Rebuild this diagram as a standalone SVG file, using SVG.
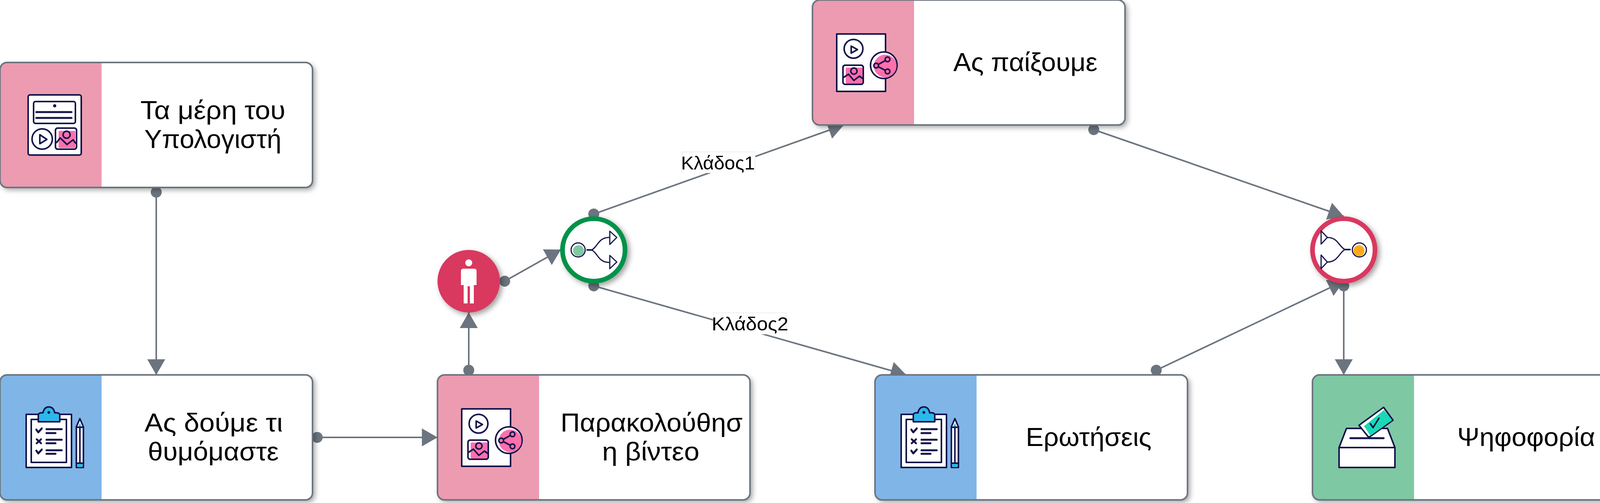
<svg xmlns="http://www.w3.org/2000/svg" width="4168" height="1288" viewBox="0 0 4168 1288" style="display:block">
<defs>
<style>
text{font-family:"Liberation Sans",Arial,sans-serif;fill:#000;text-anchor:middle}
.t{font-size:67px}
.l{font-size:48px}
.card{fill:#fff}
.frame{fill:none;stroke:#6c757f;stroke-width:4}
.pink{fill:#ec9bb1}.blue{fill:#80b5e8}.green{fill:#7fc8a4}
.conn{fill:none;stroke:#6c757f;stroke-width:4;marker-start:url(#dot);marker-end:url(#arrow)}
.lab{fill:#fff}
.labedge{fill:none;stroke:#e9e9e9;stroke-width:1.5}
.n{fill:none;stroke:#14144b;stroke-width:4;stroke-linecap:round;stroke-linejoin:round}
.nf{fill:#fff;stroke:#14144b;stroke-width:4;stroke-linejoin:round}
.nb{fill:#14144b}
.hot{fill:#ff6fab}
.cy{fill:#2bb8ea}
.shad{filter:url(#sh)}
</style>
<filter id="sh" x="-20%" y="-20%" width="150%" height="150%"><feDropShadow dx="6" dy="6" stdDeviation="7" flood-color="#000" flood-opacity=".38"/></filter>
<marker id="arrow" markerUnits="userSpaceOnUse" markerWidth="40" markerHeight="46" refX="40" refY="23" orient="auto"><path d="M0 0L40 23L0 46Z" fill="#6c757f"/></marker>
<marker id="dot" markerUnits="userSpaceOnUse" markerWidth="28" markerHeight="28" refX="14" refY="14" orient="auto"><circle cx="14" cy="14" r="14" fill="#6c757f"/></marker>
<g id="ic-doc">
<rect class="nf" x="1182" y="1047" width="125" height="147"/>
<circle class="nf" cx="1225" cy="1085" r="24"/>
<path class="n" d="M1219 1078L1235 1087L1219 1096Z"/>
<rect class="nf" x="1198" y="1127" width="52" height="49" rx="6"/>
<rect class="hot" x="1205" y="1133" width="44" height="41" rx="3"/>
<circle class="n" cx="1226" cy="1142" r="8"/>
<path class="n" d="M1200 1158L1212 1150L1226 1166L1240 1155L1250 1162"/>
<rect class="n" x="1198" y="1127" width="52" height="49" rx="6"/>
<circle class="nf" cx="1302.500" cy="1127" r="34"/>
<circle class="hot" cx="1306" cy="1129" r="29"/>
<path class="n" d="M1283 1128L1312 1112M1283 1128L1312 1143"/>
<circle class="n" style="fill:#ff6fab" cx="1283" cy="1128" r="6"/>
<circle class="n" style="fill:#ff6fab" cx="1312" cy="1112" r="6"/>
<circle class="n" style="fill:#ff6fab" cx="1312" cy="1143" r="6"/>
</g>
<g id="ic-clip">
<rect class="nf" x="67" y="1061" width="116" height="136"/>
<rect class="nf" x="80" y="1074" width="90" height="110"/>
<path class="cy" stroke="#14144b" stroke-width="4" stroke-linejoin="round" d="M98 1080V1063Q98 1058 105 1057H110C112 1047 117 1042 125 1042C133 1042 138 1047 140 1057H146Q153 1058 153 1063V1080Z"/>
<circle class="nb" cx="125" cy="1056" r="3.500"/>
<path class="n" style="stroke-width:5" d="M93 1100L98 1107L107 1097M93 1154L98 1161L107 1151M94 1125L105 1135M105 1125L94 1135M119 1099H158M119 1109H142M119 1126H158M119 1135H142M119 1153H158M119 1162H142"/>
<path class="nf" d="M195.500 1093L204.500 1072L213.500 1093V1197H195.500Z"/>
<path class="cy" d="M201 1092L204.500 1083L208 1092Z"/>
<path class="n" d="M195.500 1094H213.500M204.500 1094V1186M195.500 1186H213.500"/>
<rect class="cy" x="198" y="1188" width="13" height="8"/>
</g>
</defs>
<g id="connectors">
<path class="conn" d="M400 492V960"/>
<path class="conn" d="M812 1120H1120"/>
<path class="conn" d="M1200 948V800"/>
<path class="conn" d="M1292 720L1436 639"/>
<path class="conn" d="M1520 548L2160 320"/>
<path class="conn" d="M1520 732L2320 960"/>
<path class="conn" d="M2800 332L3440 554"/>
<path class="conn" d="M2960 948L3440 720"/>
<path class="conn" d="M3440 732V960"/>
<g id="label-1"><rect class="lab" x="1746" y="389" width="187" height="54"/><path class="labedge" d="M1746 443V389H1933V443"/><text class="l" x="1838" y="434" textLength="189" lengthAdjust="spacingAndGlyphs">Κλάδος1</text></g>
<g id="label-2"><rect class="lab" x="1826" y="801" width="188" height="55"/><path class="labedge" d="M1826 856V801H2014V856"/><text class="l" x="1920" y="846" textLength="196" lengthAdjust="spacingAndGlyphs">Κλάδος2</text></g>
</g>
<g id="node-parts">
<rect class="card shad" x="0" y="160" width="800" height="320" rx="18"/>
<path class="pink" d="M260 160H18A18 18 0 0 0 0 178V462A18 18 0 0 0 18 480H260Z"/>
<rect class="frame" x="0" y="160" width="800" height="320" rx="18"/>
<rect class="nf" x="72" y="243" width="136" height="154" rx="5"/>
<rect class="nf" x="86" y="260" width="107" height="56" rx="5"/>
<circle class="nb" cx="140" cy="271" r="4"/>
<path class="n" style="stroke-width:5" d="M93 287H183M93 302H183"/>
<circle class="nf" cx="108" cy="356" r="26"/>
<path class="n" d="M102 345L120 357L102 368Z"/>
<rect class="nf" x="142" y="328" width="54" height="54" rx="6"/>
<rect class="hot" x="150" y="335" width="43" height="44" rx="3"/>
<circle class="n" cx="170.500" cy="345" r="9"/>
<path class="n" d="M145 365L154 353L171.500 370L187 358L194 367"/>
<rect class="n" x="142" y="328" width="54" height="54" rx="6"/>
<text class="t" x="545" y="305" textLength="371" lengthAdjust="spacingAndGlyphs">Τα μέρη του</text>
<text class="t" x="545" y="379" textLength="351" lengthAdjust="spacingAndGlyphs">Υπολογιστή</text>
</g>
<g id="node-recall">
<rect class="card shad" x="0" y="960" width="800" height="320" rx="18"/>
<path class="blue" d="M260 960H18A18 18 0 0 0 0 978V1262A18 18 0 0 0 18 1280H260Z"/>
<rect class="frame" x="0" y="960" width="800" height="320" rx="18"/>
<use href="#ic-clip"/>
<text class="t" x="547" y="1105" textLength="354" lengthAdjust="spacingAndGlyphs">Ας δούμε τι</text>
<text class="t" x="546" y="1179" textLength="335" lengthAdjust="spacingAndGlyphs">θυμόμαστε</text>
</g>
<g id="node-video">
<rect class="card shad" x="1120" y="960" width="800" height="320" rx="18"/>
<path class="pink" d="M1380 960H1138A18 18 0 0 0 1120 978V1262A18 18 0 0 0 1138 1280H1380Z"/>
<rect class="frame" x="1120" y="960" width="800" height="320" rx="18"/>
<use href="#ic-doc"/>
<text class="t" x="1668" y="1105" textLength="466" lengthAdjust="spacingAndGlyphs">Παρακολούθησ</text>
<text class="t" x="1666" y="1179" textLength="249" lengthAdjust="spacingAndGlyphs">η βίντεο</text>
</g>
<g id="node-play">
<rect class="card shad" x="2080" y="0" width="800" height="320" rx="18"/>
<path class="pink" d="M2340 0H2098A18 18 0 0 0 2080 18V302A18 18 0 0 0 2098 320H2340Z"/>
<rect class="frame" x="2080" y="0" width="800" height="320" rx="18"/>
<use href="#ic-doc" transform="translate(960 -960)"/>
<text class="t" x="2625" y="182" textLength="369" lengthAdjust="spacingAndGlyphs">Ας παίξουμε</text>
</g>
<g id="node-questions">
<rect class="card shad" x="2240" y="960" width="800" height="320" rx="18"/>
<path class="blue" d="M2500 960H2258A18 18 0 0 0 2240 978V1262A18 18 0 0 0 2258 1280H2500Z"/>
<rect class="frame" x="2240" y="960" width="800" height="320" rx="18"/>
<use href="#ic-clip" transform="translate(2240 0)"/>
<text class="t" x="2787" y="1142" textLength="322" lengthAdjust="spacingAndGlyphs">Ερωτήσεις</text>
</g>
<g id="node-vote">
<rect class="card shad" x="3360" y="960" width="800" height="320" rx="18"/>
<path class="green" d="M3620 960H3378A18 18 0 0 0 3360 978V1262A18 18 0 0 0 3378 1280H3620Z"/>
<rect class="frame" x="3360" y="960" width="800" height="320" rx="18"/>
<path class="nf" d="M3447 1097H3552L3571 1146H3428Z"/>
<rect class="nf" x="3428" y="1146" width="143" height="51"/>
<path class="n" style="stroke-width:5" d="M3457 1122H3542"/>
<path class="nf" d="M3542 1043L3566 1076L3504 1120L3479 1089Z"/>
<path d="M3543 1050L3564 1076L3508 1116L3492 1091Z" fill="#1bd9b5"/>
<path class="n" d="M3508 1085L3515 1095L3530 1071"/>
<text class="t" x="3907" y="1142" textLength="353" lengthAdjust="spacingAndGlyphs">Ψηφοφορία</text>
</g>
<g id="node-person">
<circle class="shad" cx="1200" cy="720" r="80" fill="#d9385e"/>
<circle cx="1200" cy="673" r="9" fill="#fff"/>
<path fill="#fff" d="M1186 688H1214Q1220 688 1220 694V730H1213V777H1203V733H1197V777H1187V730H1180V694Q1180 688 1186 688Z"/>
</g>
<g id="node-split">
<circle class="shad" cx="1520" cy="640" r="80" fill="#fff" stroke="#059248" stroke-width="12"/>
<circle class="nf" style="stroke-width:3" cx="1480" cy="640" r="18"/>
<circle cx="1481" cy="642" r="14" fill="#7fc8a4"/>
<path class="n" style="stroke-width:3" d="M1515 640C1530 632 1532 608 1559 608M1515 640C1530 648 1532 672 1559 672"/>
<path class="n" d="M1503 640H1515"/>
<path class="n" style="stroke-width:3" d="M1561 592L1579 608L1561 626ZM1561 654L1579 671L1561 688Z"/>
</g>
<g id="node-merge">
<circle class="shad" cx="3440" cy="640" r="80" fill="#fff" stroke="#d9385e" stroke-width="12"/>
<circle class="nf" style="stroke-width:3" cx="3480" cy="640" r="18"/>
<circle cx="3479" cy="642" r="14" fill="#ffa91b"/>
<path class="n" style="stroke-width:3" d="M3398 608C3425 608 3428 632 3443 639M3398 671C3425 671 3428 647 3443 639"/>
<path class="n" d="M3443 639H3456"/>
<path class="n" style="stroke-width:3" d="M3382 591L3398 608L3382 625ZM3382 653L3398 671L3382 688Z"/>
</g>
</svg>
